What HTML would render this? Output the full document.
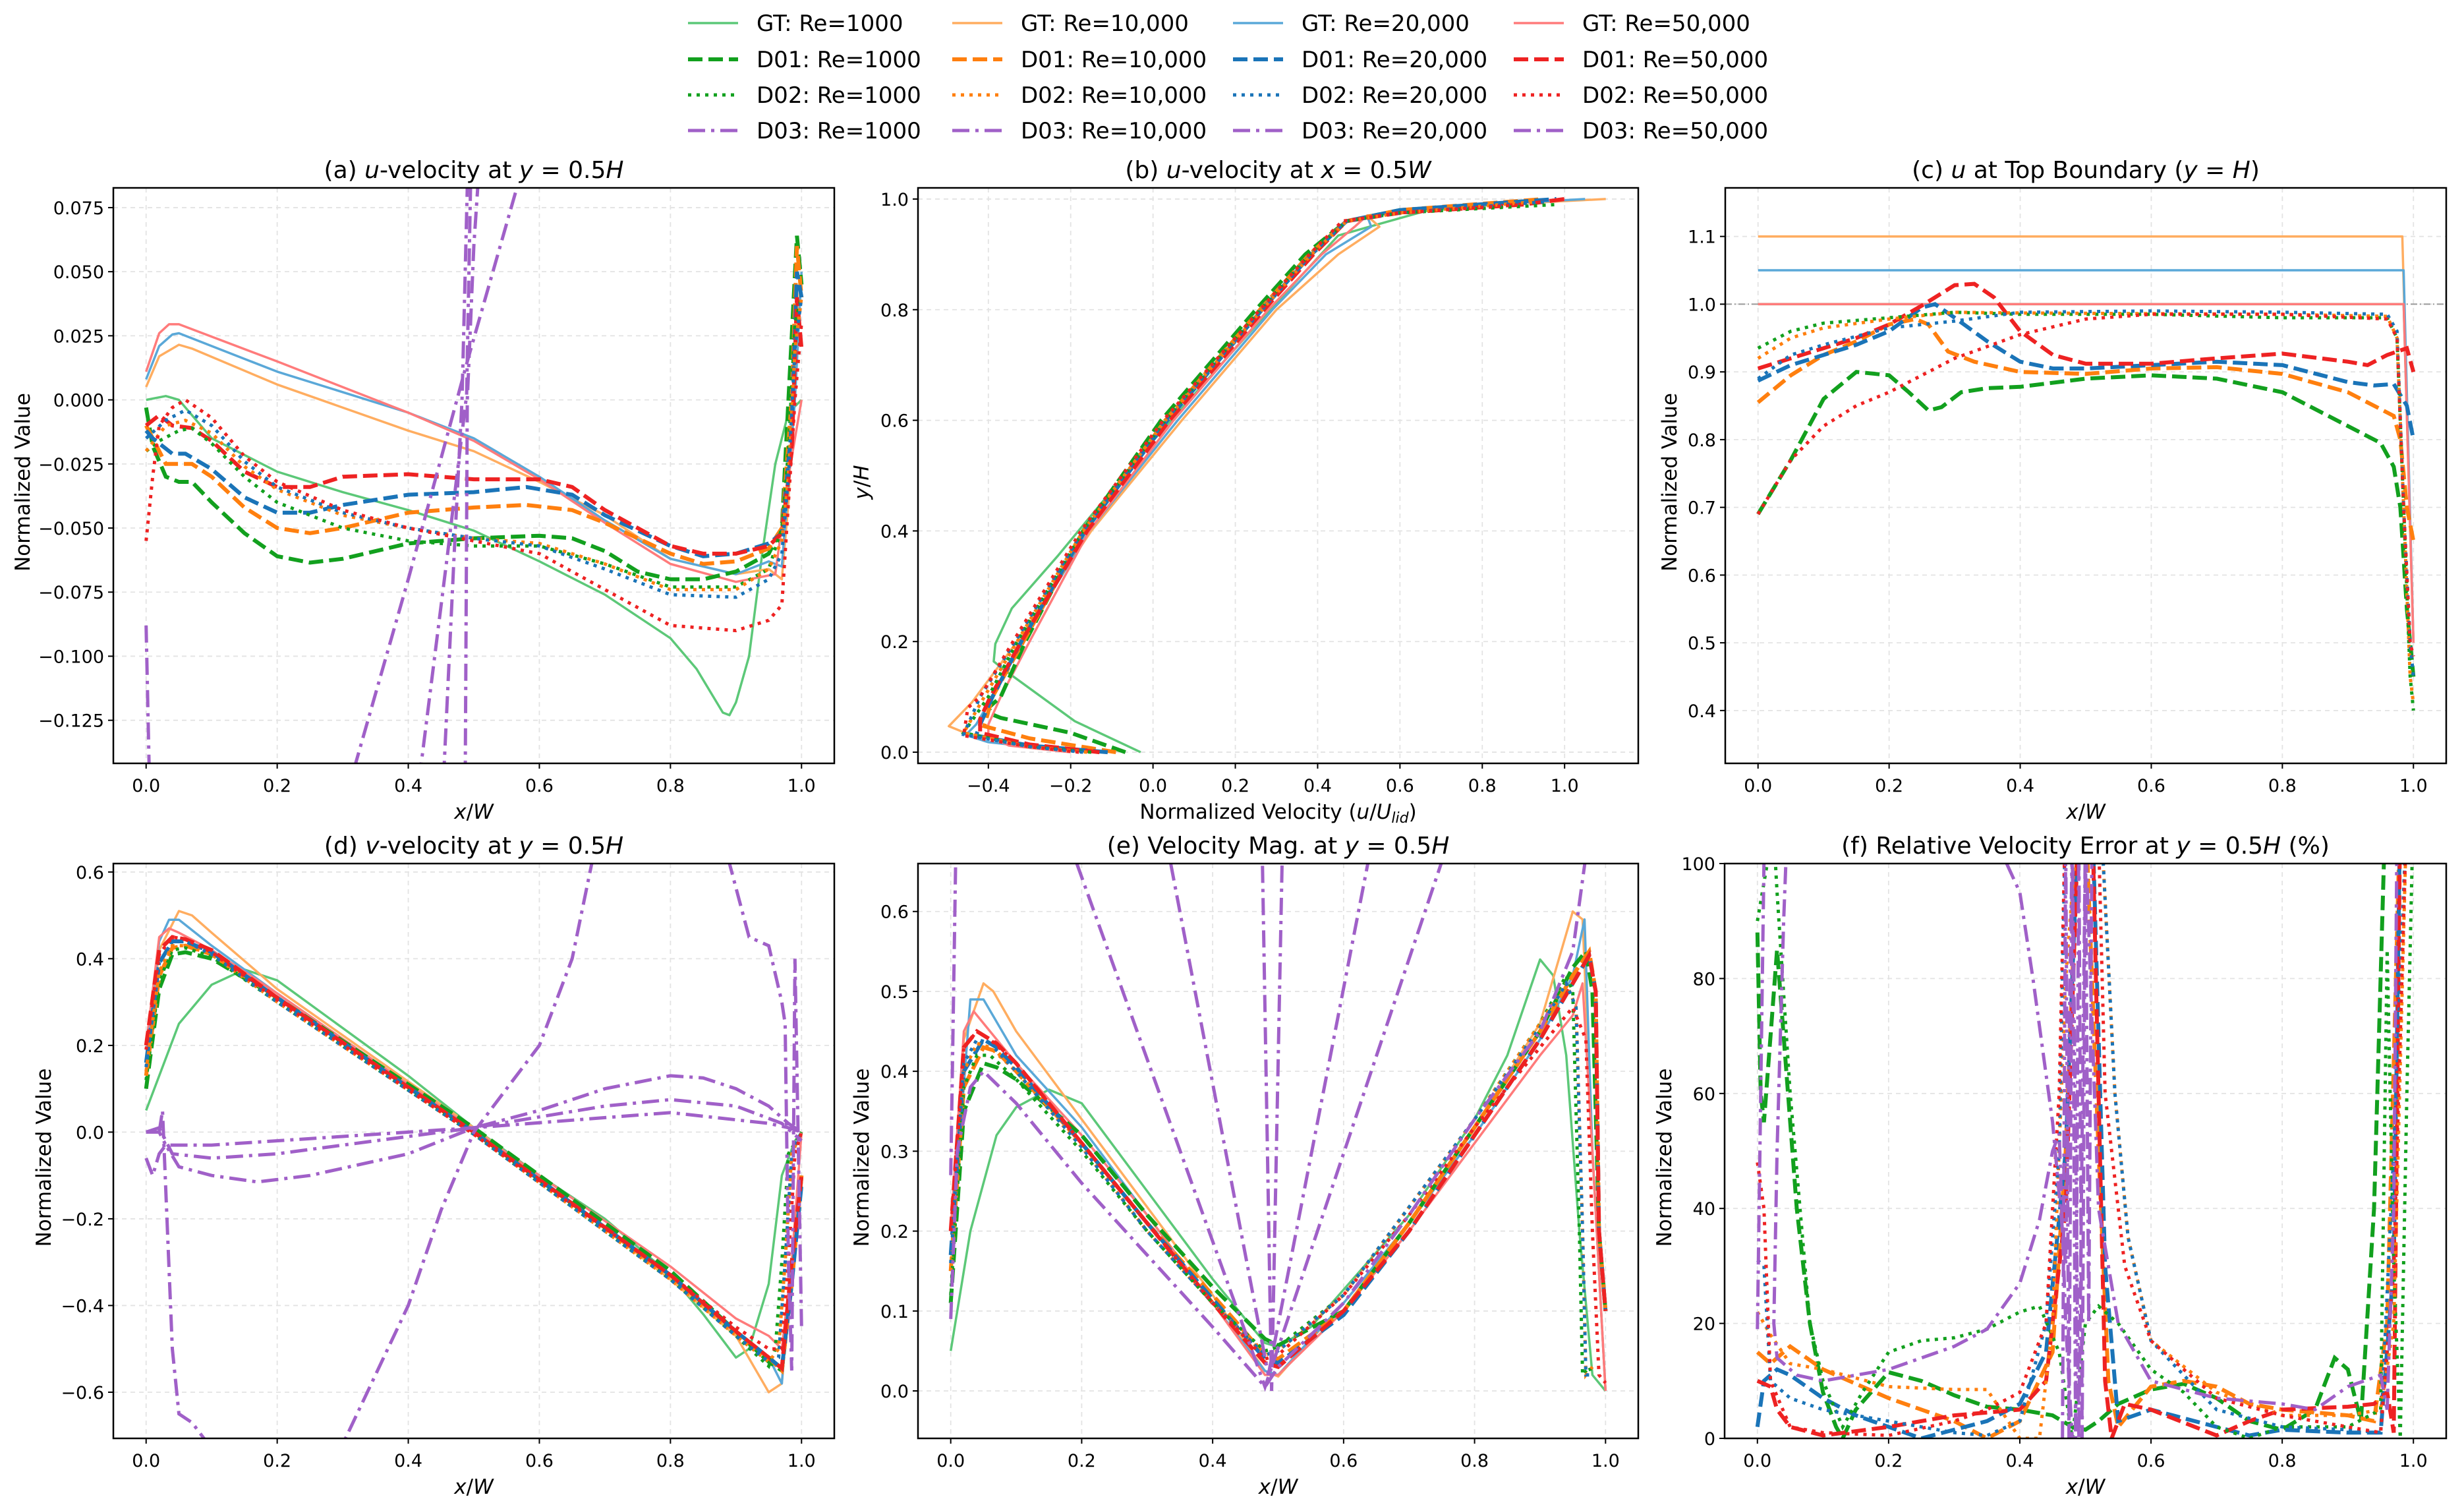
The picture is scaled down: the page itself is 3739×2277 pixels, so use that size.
<!DOCTYPE html>
<html><head><meta charset="utf-8">
<style>
html,body{margin:0;padding:0;background:#fff;}
svg{display:block;font-family:"DejaVu Sans","Liberation Sans",sans-serif;}
</style></head>
<body>
<svg id="fig" xmlns="http://www.w3.org/2000/svg" width="3739" height="2277" viewBox="0 0 3739 2277">
<rect x="0" y="0" width="3739" height="2277" fill="#fff"/>
<g id="legend"></g>
<g id="plots"></g>
</svg>
<script>
// ---------- Panel (a) u-velocity at y=0.5H ----------
const A_GT1000 = [[0,0],[0.03,0.0015],[0.05,0],[0.1,-0.015],[0.2,-0.028],[0.3,-0.036],[0.4,-0.043],[0.5,-0.051],[0.6,-0.063],[0.7,-0.076],[0.8,-0.093],[0.84,-0.105],[0.88,-0.122],[0.89,-0.123],[0.9,-0.118],[0.92,-0.1],[0.94,-0.06],[0.96,-0.025],[0.97,-0.015],[0.98,-0.005],[1.0,0]];
const A_GT10k = [[0,0.005],[0.02,0.017],[0.05,0.0215],[0.07,0.02],[0.2,0.006],[0.4,-0.012],[0.5,-0.02],[0.6,-0.032],[0.7,-0.045],[0.8,-0.062],[0.9,-0.068],[0.95,-0.066],[0.97,-0.07],[0.98,-0.04],[0.99,0.02],[1.0,0.05]];
const A_GT20k = [[0,0.008],[0.02,0.021],[0.04,0.0255],[0.05,0.026],[0.2,0.011],[0.4,-0.005],[0.5,-0.015],[0.6,-0.03],[0.7,-0.047],[0.8,-0.062],[0.9,-0.068],[0.95,-0.063],[0.97,-0.065],[0.99,0],[1.0,0.05]];
const A_GT50k = [[0,0.011],[0.02,0.026],[0.035,0.0295],[0.05,0.0295],[0.2,0.015],[0.4,-0.005],[0.5,-0.016],[0.6,-0.031],[0.7,-0.048],[0.8,-0.064],[0.9,-0.071],[0.96,-0.068],[0.98,-0.03],[1.0,0]];
const A_D01_1000 = [[0,-0.003],[0.01,-0.018],[0.03,-0.03],[0.05,-0.032],[0.07,-0.032],[0.1,-0.04],[0.15,-0.052],[0.2,-0.061],[0.25,-0.0635],[0.3,-0.062],[0.4,-0.056],[0.5,-0.054],[0.6,-0.053],[0.65,-0.054],[0.7,-0.059],[0.75,-0.067],[0.8,-0.07],[0.85,-0.07],[0.9,-0.067],[0.95,-0.06],[0.97,-0.05],[0.98,0],[0.993,0.064],[1.0,0.045]];
const A_D01_10k = [[0,-0.01],[0.01,-0.015],[0.03,-0.025],[0.07,-0.025],[0.1,-0.03],[0.15,-0.042],[0.2,-0.05],[0.25,-0.052],[0.3,-0.05],[0.4,-0.044],[0.5,-0.042],[0.58,-0.041],[0.65,-0.043],[0.7,-0.048],[0.8,-0.06],[0.85,-0.064],[0.9,-0.063],[0.95,-0.058],[0.97,-0.05],[0.985,0],[0.993,0.06],[1.0,0.04]];
const A_D01_20k = [[0,-0.012],[0.01,-0.015],[0.04,-0.021],[0.06,-0.021],[0.1,-0.027],[0.15,-0.038],[0.2,-0.044],[0.25,-0.044],[0.3,-0.041],[0.4,-0.037],[0.5,-0.036],[0.58,-0.034],[0.65,-0.037],[0.7,-0.045],[0.8,-0.057],[0.85,-0.061],[0.9,-0.06],[0.95,-0.056],[0.97,-0.052],[0.985,-0.01],[0.993,0.05],[1.0,0.04]];
const A_D01_50k = [[0,-0.01],[0.02,-0.006],[0.04,-0.01],[0.07,-0.011],[0.1,-0.016],[0.15,-0.028],[0.2,-0.034],[0.25,-0.034],[0.3,-0.03],[0.4,-0.029],[0.5,-0.031],[0.6,-0.031],[0.65,-0.034],[0.7,-0.043],[0.8,-0.057],[0.85,-0.06],[0.9,-0.06],[0.95,-0.057],[0.97,-0.052],[0.985,-0.02],[0.993,0.04],[1.0,0.02]];
const A_D02_1000 = [[0,-0.02],[0.02,-0.016],[0.05,-0.012],[0.07,-0.011],[0.1,-0.017],[0.15,-0.03],[0.2,-0.04],[0.3,-0.05],[0.4,-0.055],[0.5,-0.057],[0.6,-0.057],[0.7,-0.064],[0.8,-0.073],[0.9,-0.073],[0.95,-0.066],[0.97,-0.05],[0.98,-0.02],[0.99,0.03],[1.0,0.04]];
const A_D02_10k = [[0,-0.02],[0.03,-0.01],[0.06,-0.008],[0.1,-0.013],[0.15,-0.026],[0.2,-0.035],[0.3,-0.045],[0.4,-0.05],[0.5,-0.054],[0.6,-0.056],[0.7,-0.064],[0.8,-0.074],[0.9,-0.074],[0.95,-0.066],[0.97,-0.055],[0.98,-0.03],[0.99,0.02],[1.0,0.04]];
const A_D02_20k = [[0,-0.015],[0.03,-0.008],[0.06,-0.004],[0.1,-0.01],[0.15,-0.024],[0.2,-0.034],[0.3,-0.044],[0.4,-0.05],[0.5,-0.054],[0.6,-0.057],[0.7,-0.066],[0.8,-0.076],[0.9,-0.077],[0.95,-0.07],[0.97,-0.06],[0.98,-0.03],[0.99,0.02],[1.0,0.04]];
const A_D02_50k = [[0,-0.055],[0.01,-0.03],[0.02,-0.01],[0.04,-0.003],[0.06,0],[0.1,-0.007],[0.15,-0.022],[0.2,-0.032],[0.3,-0.043],[0.4,-0.05],[0.5,-0.055],[0.6,-0.06],[0.7,-0.074],[0.8,-0.088],[0.9,-0.09],[0.95,-0.086],[0.97,-0.08],[0.98,-0.04],[0.99,0],[1.0,0.03]];
const A_D03_1000 = [[0,-0.088],[0.006,-0.16],[0.3,-0.16],[0.32,-0.1415],[0.4,-0.07],[0.49,0.015],[0.566,0.083],[0.6,0.11]];
const A_D03_10k = [[0.4,-0.16],[0.42,-0.1415],[0.46,-0.06],[0.489,0.002],[0.495,0.083],[0.5,0.1]];
const A_D03_20k = [[0.45,-0.16],[0.455,-0.1415],[0.47,-0.06],[0.482,0.0],[0.49,0.083],[0.492,0.1]];
const A_D03_50k = [[0.487,-0.16],[0.487,-0.1415],[0.49,0.0],[0.5,0.06],[0.506,0.083],[0.51,0.1]];

// ---------- Panel (b) u-velocity at x=0.5W (x = velocity, y = y/H) ----------
const B_GT1000 = [[-0.03,0],[-0.19,0.056],[-0.36,0.148],[-0.387,0.164],[-0.383,0.196],[-0.343,0.26],[-0.23,0.356],[0,0.563],[0.26,0.78],[0.45,0.934],[0.54,0.953],[0.66,0.978],[0.9,0.995],[0.93,1.0]];
const B_GT10k = [[-0.12,0],[-0.3,0.012],[-0.45,0.033],[-0.496,0.047],[-0.44,0.09],[-0.33,0.2],[-0.15,0.4],[0.07,0.6],[0.3,0.8],[0.45,0.9],[0.55,0.95],[0.52,0.97],[0.7,0.985],[1.1,1.0]];
const B_GT20k = [[-0.15,0],[-0.3,0.01],[-0.4,0.018],[-0.455,0.031],[-0.43,0.05],[-0.39,0.1],[-0.32,0.2],[-0.155,0.4],[0.06,0.6],[0.29,0.8],[0.42,0.9],[0.53,0.95],[0.52,0.97],[0.7,0.985],[1.05,1.0]];
const B_GT50k = [[-0.2,0],[-0.35,0.012],[-0.4,0.03],[-0.4,0.05],[-0.37,0.1],[-0.3,0.2],[-0.155,0.4],[0.05,0.6],[0.28,0.8],[0.41,0.9],[0.49,0.95],[0.52,0.97],[0.7,0.985],[1.0,1.0]];
const B_D01_1000 = [[-0.067,0],[-0.2,0.035],[-0.37,0.062],[-0.39,0.068],[-0.4,0.08],[-0.37,0.1],[-0.31,0.2],[-0.17,0.4],[0.02,0.6],[0.25,0.8],[0.37,0.9],[0.47,0.96],[0.6,0.98],[0.9,0.995]];
const B_D01_10k = [[-0.09,0],[-0.3,0.025],[-0.41,0.047],[-0.39,0.1],[-0.315,0.2],[-0.165,0.4],[0.03,0.6],[0.26,0.8],[0.38,0.9],[0.47,0.96],[0.6,0.98],[0.95,1.0]];
const B_D01_20k = [[-0.11,0],[-0.3,0.012],[-0.43,0.03],[-0.42,0.05],[-0.39,0.1],[-0.32,0.2],[-0.165,0.4],[0.035,0.6],[0.265,0.8],[0.385,0.9],[0.47,0.96],[0.6,0.98],[0.98,1.0]];
const B_D01_50k = [[-0.13,0],[-0.3,0.014],[-0.42,0.035],[-0.42,0.06],[-0.395,0.1],[-0.32,0.2],[-0.16,0.4],[0.04,0.6],[0.27,0.8],[0.39,0.9],[0.47,0.96],[0.6,0.975],[0.9,0.99],[1.0,1.0]];
const B_D02_1000 = [[-0.15,0],[-0.3,0.01],[-0.46,0.035],[-0.4,0.1],[-0.33,0.2],[-0.17,0.4],[0.03,0.6],[0.26,0.8],[0.38,0.9],[0.47,0.96],[0.6,0.975],[0.98,0.99]];
const B_D02_10k = [[-0.16,0],[-0.3,0.01],[-0.46,0.035],[-0.41,0.1],[-0.33,0.2],[-0.17,0.4],[0.03,0.6],[0.265,0.8],[0.385,0.9],[0.47,0.96],[0.6,0.975],[0.93,0.995]];
const B_D02_20k = [[-0.17,0],[-0.3,0.01],[-0.46,0.032],[-0.42,0.1],[-0.335,0.2],[-0.17,0.4],[0.03,0.6],[0.265,0.8],[0.385,0.9],[0.47,0.96],[0.6,0.975],[0.95,0.995]];
const B_D02_50k = [[-0.18,0],[-0.3,0.01],[-0.46,0.03],[-0.45,0.08],[-0.42,0.1],[-0.34,0.2],[-0.175,0.4],[0.025,0.6],[0.26,0.8],[0.38,0.9],[0.46,0.96],[0.6,0.975],[0.9,0.99]];

// ---------- Panel (c) u at top boundary ----------
const C_GT1000 = [[0,1.0],[0.985,1.0],[1.0,0.5]];
const C_GT10k = [[0,1.1],[0.983,1.1],[1.0,0.5]];
const C_GT20k = [[0,1.05],[0.985,1.05],[1.0,0.5]];
const C_GT50k = [[0,1.0],[0.985,1.0],[1.0,0.5]];
const C_D01_1000 = [[0,0.69],[0.05,0.77],[0.1,0.86],[0.15,0.9],[0.2,0.895],[0.23,0.87],[0.26,0.843],[0.28,0.848],[0.31,0.87],[0.35,0.876],[0.4,0.878],[0.5,0.89],[0.6,0.895],[0.7,0.89],[0.8,0.87],[0.9,0.82],[0.95,0.795],[0.97,0.76],[0.98,0.7],[0.99,0.55],[1.0,0.45]];
const C_D01_10k = [[0,0.855],[0.05,0.895],[0.1,0.925],[0.15,0.945],[0.2,0.97],[0.24,0.978],[0.26,0.97],[0.29,0.93],[0.33,0.915],[0.4,0.9],[0.5,0.897],[0.6,0.905],[0.7,0.907],[0.8,0.897],[0.9,0.87],[0.95,0.845],[0.97,0.835],[0.98,0.8],[0.99,0.7],[1.0,0.65]];
const C_D01_20k = [[0,0.887],[0.05,0.91],[0.1,0.925],[0.15,0.94],[0.2,0.96],[0.25,0.995],[0.27,1.0],[0.3,0.98],[0.35,0.945],[0.4,0.915],[0.45,0.905],[0.5,0.905],[0.6,0.91],[0.7,0.915],[0.8,0.91],[0.9,0.885],[0.94,0.88],[0.97,0.882],[0.99,0.85],[1.0,0.8]];
const C_D01_50k = [[0,0.905],[0.05,0.92],[0.1,0.935],[0.15,0.95],[0.2,0.97],[0.25,0.998],[0.3,1.028],[0.33,1.03],[0.36,1.01],[0.4,0.96],[0.45,0.925],[0.5,0.912],[0.6,0.912],[0.7,0.92],[0.8,0.927],[0.9,0.915],[0.93,0.91],[0.96,0.925],[0.99,0.935],[1.0,0.9]];
const C_D02_1000 = [[0,0.935],[0.05,0.96],[0.1,0.972],[0.2,0.98],[0.3,0.988],[0.4,0.985],[0.6,0.985],[0.8,0.98],[0.96,0.98],[0.975,0.95],[0.985,0.7],[0.995,0.45],[1.0,0.4]];
const C_D02_10k = [[0,0.92],[0.05,0.95],[0.1,0.965],[0.2,0.978],[0.3,0.988],[0.4,0.987],[0.6,0.986],[0.8,0.985],[0.96,0.982],[0.975,0.95],[0.985,0.7],[0.995,0.45],[1.0,0.41]];
const C_D02_20k = [[0,0.89],[0.05,0.925],[0.1,0.94],[0.2,0.965],[0.3,0.975],[0.4,0.988],[0.6,0.99],[0.8,0.988],[0.96,0.985],[0.975,0.96],[0.985,0.7],[0.995,0.5],[1.0,0.45]];
const C_D02_50k = [[0,0.69],[0.05,0.77],[0.1,0.82],[0.15,0.85],[0.2,0.87],[0.3,0.92],[0.4,0.955],[0.5,0.978],[0.6,0.985],[0.8,0.985],[0.96,0.978],[0.975,0.95],[0.985,0.7],[0.995,0.5],[1.0,0.48]];
const C_REF = [[-0.05,1.0],[1.05,1.0]];

// ---------- Panel (d) v-velocity at y=0.5H ----------
const D_GT1000 = [[0,0.05],[0.05,0.25],[0.1,0.34],[0.15,0.375],[0.2,0.35],[0.3,0.24],[0.4,0.13],[0.5,0.01],[0.6,-0.1],[0.7,-0.2],[0.8,-0.33],[0.85,-0.42],[0.9,-0.52],[0.92,-0.5],[0.95,-0.35],[0.97,-0.1],[0.99,-0.02],[1.0,0]];
const D_GT10k = [[0,0.15],[0.02,0.42],[0.05,0.51],[0.07,0.5],[0.1,0.46],[0.2,0.33],[0.5,0.01],[0.8,-0.34],[0.9,-0.47],[0.95,-0.6],[0.97,-0.58],[0.985,-0.3],[1.0,-0.1]];
const D_GT20k = [[0,0.17],[0.02,0.44],[0.035,0.49],[0.05,0.49],[0.1,0.43],[0.2,0.32],[0.5,0.005],[0.8,-0.33],[0.9,-0.46],[0.95,-0.52],[0.97,-0.58],[0.985,-0.3],[1.0,-0.1]];
const D_GT50k = [[0,0.2],[0.02,0.45],[0.035,0.47],[0.05,0.46],[0.1,0.42],[0.2,0.32],[0.5,0.005],[0.8,-0.31],[0.9,-0.43],[0.95,-0.47],[0.97,-0.5],[0.985,-0.3],[1.0,0]];
const D_D01_1000 = [[0,0.1],[0.02,0.33],[0.04,0.41],[0.06,0.415],[0.1,0.4],[0.2,0.31],[0.5,0.01],[0.8,-0.32],[0.9,-0.46],[0.95,-0.53],[0.97,-0.55],[0.985,-0.35],[1.0,-0.1]];
const D_D01_10k = [[0,0.13],[0.02,0.36],[0.04,0.425],[0.06,0.43],[0.1,0.41],[0.2,0.31],[0.5,0],[0.8,-0.33],[0.9,-0.46],[0.95,-0.52],[0.97,-0.55],[0.985,-0.35],[1.0,-0.1]];
const D_D01_20k = [[0,0.16],[0.02,0.39],[0.04,0.44],[0.06,0.44],[0.1,0.415],[0.2,0.31],[0.5,0],[0.8,-0.33],[0.9,-0.46],[0.95,-0.52],[0.97,-0.545],[0.985,-0.35],[1.0,-0.12]];
const D_D01_50k = [[0,0.2],[0.02,0.42],[0.04,0.45],[0.06,0.445],[0.1,0.42],[0.2,0.31],[0.5,0],[0.8,-0.33],[0.9,-0.46],[0.95,-0.52],[0.97,-0.545],[0.985,-0.3],[1.0,-0.1]];
const D_D02_1000 = [[0,0.12],[0.02,0.35],[0.04,0.42],[0.06,0.425],[0.1,0.405],[0.2,0.3],[0.5,-0.005],[0.8,-0.34],[0.9,-0.47],[0.95,-0.54],[0.96,-0.5],[0.97,-0.3],[0.98,-0.05],[1.0,0]];
const D_D02_10k = [[0,0.14],[0.02,0.37],[0.04,0.43],[0.06,0.43],[0.1,0.41],[0.2,0.3],[0.5,-0.005],[0.8,-0.34],[0.9,-0.47],[0.95,-0.53],[0.965,-0.5],[0.975,-0.3],[0.985,-0.05],[1.0,0]];
const D_D02_20k = [[0,0.15],[0.02,0.39],[0.04,0.44],[0.06,0.44],[0.1,0.41],[0.2,0.3],[0.5,-0.005],[0.8,-0.34],[0.9,-0.47],[0.95,-0.53],[0.965,-0.52],[0.975,-0.3],[0.985,-0.05],[1.0,0]];
const D_D02_50k = [[0,0.19],[0.02,0.41],[0.04,0.45],[0.06,0.445],[0.1,0.415],[0.2,0.305],[0.5,-0.005],[0.8,-0.33],[0.9,-0.45],[0.95,-0.5],[0.97,-0.5],[0.98,-0.3],[0.99,-0.05],[1.0,0]];
const D_D03_1000 = [[0,0],[0.02,0],[0.03,-0.03],[0.1,-0.03],[0.3,-0.01],[0.5,0.01],[0.8,0.045],[0.95,0.02],[0.98,0.01],[1.0,0]];
const D_D03_10k = [[0,0],[0.02,0.01],[0.04,-0.05],[0.1,-0.06],[0.2,-0.05],[0.4,-0.01],[0.5,0.01],[0.7,0.06],[0.8,0.075],[0.9,0.06],[0.97,0.02],[0.985,0],[1.0,-0.02]];
const D_D03_20k = [[0,-0.06],[0.01,-0.1],[0.02,-0.05],[0.03,-0.03],[0.05,-0.08],[0.1,-0.1],[0.17,-0.115],[0.25,-0.1],[0.4,-0.05],[0.5,0.01],[0.6,0.05],[0.7,0.1],[0.8,0.13],[0.85,0.125],[0.9,0.1],[0.95,0.06],[0.98,0.02],[1.0,0]];
const D_D03_50k = [[0.02,0],[0.025,0.05],[0.04,-0.5],[0.05,-0.65],[0.07,-0.67],[0.09,-0.71],[0.12,-0.9],[0.28,-0.9],[0.3,-0.72],[0.4,-0.4],[0.45,-0.18],[0.5,0],[0.55,0.1],[0.6,0.2],[0.65,0.4],[0.68,0.62],[0.7,0.85],[0.88,0.85],[0.89,0.62],[0.92,0.45],[0.95,0.43],[0.97,0.3],[0.975,0.25],[0.98,-0.3],[0.985,-0.55],[0.99,0.4],[1.0,-0.45]];

// ---------- Panel (e) velocity magnitude at y=0.5H ----------
const E_GT1000 = [[0,0.05],[0.03,0.2],[0.07,0.32],[0.1,0.355],[0.15,0.377],[0.2,0.36],[0.3,0.25],[0.4,0.14],[0.48,0.06],[0.5,0.055],[0.55,0.08],[0.7,0.22],[0.8,0.34],[0.85,0.42],[0.9,0.54],[0.92,0.52],[0.94,0.42],[0.96,0.2],[0.98,0.02],[1.0,0]];
const E_GT10k = [[0,0.15],[0.02,0.44],[0.05,0.51],[0.065,0.5],[0.1,0.45],[0.2,0.34],[0.3,0.23],[0.4,0.12],[0.48,0.025],[0.5,0.018],[0.6,0.11],[0.7,0.21],[0.8,0.33],[0.9,0.46],[0.95,0.6],[0.965,0.59],[0.98,0.3],[1.0,0]];
const E_GT20k = [[0,0.17],[0.03,0.49],[0.05,0.49],[0.1,0.42],[0.2,0.33],[0.3,0.22],[0.4,0.11],[0.48,0.025],[0.5,0.02],[0.6,0.11],[0.7,0.21],[0.8,0.32],[0.9,0.44],[0.95,0.52],[0.968,0.59],[0.98,0.3],[1.0,0]];
const E_GT50k = [[0,0.2],[0.02,0.45],[0.035,0.475],[0.05,0.46],[0.1,0.41],[0.2,0.32],[0.3,0.22],[0.4,0.11],[0.48,0.02],[0.5,0.02],[0.6,0.1],[0.7,0.2],[0.8,0.31],[0.9,0.42],[0.95,0.47],[0.965,0.51],[0.98,0.3],[1.0,0]];
const E_D01_1000 = [[0,0.11],[0.02,0.35],[0.05,0.41],[0.07,0.405],[0.1,0.39],[0.2,0.32],[0.3,0.22],[0.4,0.13],[0.48,0.065],[0.5,0.057],[0.6,0.1],[0.7,0.21],[0.8,0.33],[0.9,0.45],[0.95,0.53],[0.97,0.55],[0.98,0.5],[0.99,0.2],[1.0,0.1]];
const E_D01_10k = [[0,0.15],[0.02,0.38],[0.05,0.43],[0.07,0.425],[0.1,0.4],[0.2,0.31],[0.3,0.21],[0.4,0.12],[0.48,0.045],[0.5,0.04],[0.6,0.1],[0.7,0.21],[0.8,0.33],[0.9,0.45],[0.95,0.52],[0.975,0.55],[0.985,0.5],[0.99,0.2],[1.0,0.1]];
const E_D01_20k = [[0,0.17],[0.02,0.4],[0.05,0.44],[0.07,0.43],[0.1,0.405],[0.2,0.31],[0.3,0.21],[0.4,0.115],[0.48,0.04],[0.5,0.035],[0.6,0.095],[0.7,0.2],[0.8,0.32],[0.9,0.44],[0.95,0.51],[0.975,0.545],[0.985,0.5],[0.99,0.2],[1.0,0.1]];
const E_D01_50k = [[0,0.2],[0.02,0.43],[0.04,0.45],[0.07,0.435],[0.1,0.41],[0.2,0.31],[0.3,0.21],[0.4,0.11],[0.48,0.035],[0.5,0.03],[0.6,0.1],[0.7,0.2],[0.8,0.32],[0.9,0.44],[0.95,0.51],[0.975,0.545],[0.985,0.5],[0.99,0.2],[1.0,0.1]];
const E_D02_1000 = [[0,0.12],[0.02,0.38],[0.04,0.42],[0.06,0.42],[0.1,0.39],[0.2,0.3],[0.3,0.2],[0.4,0.11],[0.48,0.05],[0.5,0.055],[0.6,0.12],[0.7,0.23],[0.8,0.34],[0.9,0.46],[0.94,0.52],[0.95,0.5],[0.96,0.2],[0.965,0.02],[0.975,0.03],[0.98,0.02]];
const E_D02_10k = [[0,0.15],[0.02,0.4],[0.04,0.435],[0.06,0.43],[0.1,0.4],[0.2,0.305],[0.3,0.2],[0.4,0.11],[0.48,0.045],[0.5,0.05],[0.6,0.12],[0.7,0.23],[0.8,0.34],[0.9,0.46],[0.94,0.51],[0.955,0.48],[0.965,0.2],[0.97,0.02],[0.98,0.03]];
const E_D02_20k = [[0,0.16],[0.02,0.41],[0.04,0.44],[0.06,0.435],[0.1,0.4],[0.2,0.305],[0.3,0.2],[0.4,0.11],[0.48,0.045],[0.5,0.05],[0.6,0.12],[0.7,0.23],[0.8,0.34],[0.9,0.455],[0.94,0.51],[0.955,0.48],[0.965,0.2],[0.97,0.02],[0.98,0.02]];
const E_D02_50k = [[0,0.2],[0.02,0.43],[0.04,0.45],[0.06,0.44],[0.1,0.41],[0.2,0.31],[0.3,0.21],[0.4,0.11],[0.48,0.04],[0.5,0.045],[0.6,0.12],[0.7,0.22],[0.8,0.33],[0.9,0.43],[0.95,0.48],[0.97,0.44],[0.98,0.2],[0.99,0.02],[1.0,0.01]];
const E_D03_1000 = [[0,0.09],[0.01,0.3],[0.03,0.38],[0.05,0.4],[0.1,0.36],[0.2,0.26],[0.3,0.17],[0.4,0.08],[0.48,0.005],[0.5,0.03],[0.6,0.11],[0.7,0.22],[0.8,0.34],[0.9,0.45],[0.95,0.55],[0.975,0.7]];
const E_D03_10k = [[0,0.27],[0.0075,0.66],[0.02,1.0],[0.5,1.5],[0.97,1.0],[0.985,0.66]];
const E_D03_20k = [[0.19,0.7],[0.1925,0.66],[0.48,0.005],[0.749,0.66],[0.76,0.7]];
const E_D03_50k = [[0.33,0.7],[0.336,0.66],[0.485,0.02],[0.637,0.66],[0.65,0.7],[0.7,0.7],[0.476,0.66],[0.49,0.0],[0.506,0.66],[0.51,0.7]];

// ---------- Panel (f) relative velocity error (%) ----------
const F_D01_1000 = [[0,88],[0.005,60],[0.01,55],[0.02,70],[0.03,85],[0.04,70],[0.06,40],[0.08,20],[0.1,8],[0.12,2],[0.13,0],[0.15,5],[0.2,11.5],[0.25,10],[0.3,7.5],[0.35,5.5],[0.4,5],[0.45,4],[0.48,2],[0.5,1.5],[0.52,3],[0.55,6],[0.6,8.5],[0.65,9.5],[0.7,7],[0.75,3],[0.8,1.5],[0.85,5],[0.88,14],[0.9,12],[0.92,3],[0.94,40],[0.955,100],[0.96,130]];
const F_D01_10k = [[0,15],[0.02,13],[0.05,16],[0.1,12],[0.2,7],[0.3,3],[0.35,0],[0.4,3],[0.45,15],[0.47,50],[0.49,110],[0.5,110],[0.52,50],[0.535,10],[0.55,2],[0.6,9],[0.65,10],[0.7,9],[0.75,6],[0.8,5],[0.9,4],[0.94,3],[0.96,20],[0.98,110],[1.0,110]];
const F_D01_20k = [[0,2],[0.01,10],[0.03,12],[0.05,11],[0.1,7],[0.15,4],[0.2,2],[0.25,0],[0.3,1.5],[0.35,3],[0.4,6],[0.44,15],[0.47,50],[0.49,110],[0.51,110],[0.53,30],[0.55,3],[0.6,5],[0.7,2],[0.75,0.5],[0.8,1.5],[0.9,1],[0.95,1],[0.97,30],[0.98,110]];
const F_D01_50k = [[0,10],[0.02,9],[0.03,5],[0.05,2],[0.1,0.5],[0.2,2],[0.3,4],[0.4,5],[0.44,10],[0.47,40],[0.49,110],[0.51,110],[0.53,10],[0.54,0],[0.56,6],[0.6,5],[0.7,0.5],[0.75,3],[0.8,5],[0.9,5.5],[0.94,6],[0.96,8],[0.97,1],[0.98,110]];
const F_D02_1000 = [[0,90],[0.015,100],[0.025,105],[0.03,95],[0.05,60],[0.08,20],[0.1,10],[0.13,2],[0.16,8],[0.2,15],[0.25,17],[0.3,17.5],[0.35,19],[0.4,22],[0.43,23],[0.46,15],[0.48,0],[0.5,20],[0.52,23],[0.55,20],[0.6,12],[0.65,8],[0.7,2],[0.75,0],[0.8,2],[0.9,2],[0.95,5],[0.96,85],[0.97,30],[0.98,0],[0.99,60],[1.0,110]];
const F_D02_10k = [[0,22],[0.02,18],[0.05,13],[0.1,12],[0.2,9],[0.3,8.5],[0.35,8.5],[0.4,0],[0.43,0],[0.45,20],[0.47,80],[0.49,110],[0.525,105],[0.545,60],[0.565,35],[0.6,17],[0.7,8],[0.8,4],[0.9,4],[0.95,5],[0.97,20],[0.99,110]];
const F_D02_20k = [[0,31],[0.01,30],[0.02,10],[0.05,7],[0.1,5],[0.2,3],[0.3,1],[0.35,0.5],[0.4,3],[0.44,20],[0.46,50],[0.47,110],[0.525,105],[0.545,60],[0.565,35],[0.6,17],[0.7,5],[0.8,2],[0.9,1.5],[0.95,1],[0.97,50],[0.99,110]];
const F_D02_50k = [[0,48],[0.01,40],[0.02,10],[0.05,2],[0.1,1],[0.2,0.5],[0.3,3],[0.35,5],[0.4,8],[0.44,20],[0.46,60],[0.47,110],[0.52,105],[0.53,60],[0.56,30],[0.6,17],[0.7,7],[0.8,4],[0.9,2],[0.95,1],[0.97,30],[0.99,110]];
const F_D03_1000 = [[0,19],[0.005,60],[0.01,100],[0.015,130]];
const F_D03_10k = [[0.045,105],[0.04,90],[0.03,50],[0.025,20],[0.03,14],[0.06,11],[0.1,10],[0.2,12],[0.3,16],[0.35,19],[0.4,27],[0.43,38],[0.45,50],[0.46,53],[0.47,20],[0.48,0]];
const F_D03_20k = [[0.38,100],[0.4,95],[0.42,80],[0.45,55],[0.47,30],[0.48,105],[0.49,0],[0.5,105],[0.52,40],[0.55,20],[0.6,10],[0.7,7],[0.8,6],[0.85,5],[0.9,9],[0.95,11],[0.96,5],[0.97,40],[0.975,105]];
const F_D03_50k = [[0.465,0],[0.47,105],[0.475,0],[0.48,105],[0.485,0],[0.49,105],[0.495,0],[0.5,105],[0.505,20],[0.51,105]];

// ---------- Tick labels ----------
const TICKS_X01 = [0,0.2,0.4,0.6,0.8,1.0];
const TICKS_XB = [-0.4,-0.2,0,0.2,0.4,0.6,0.8,1.0];
const TICKS_YA = [-0.125,-0.1,-0.075,-0.05,-0.025,0,0.025,0.05,0.075];
const TICKS_YB = [0,0.2,0.4,0.6,0.8,1.0];
const TICKS_YC = [0.4,0.5,0.6,0.7,0.8,0.9,1.0,1.1];
const TICKS_YD = [-0.6,-0.4,-0.2,0,0.2,0.4,0.6];
const TICKS_YE = [0,0.1,0.2,0.3,0.4,0.5,0.6];
const TICKS_YF = [0,20,40,60,80,100];

// ---------- rendering ----------
const NS = 'http://www.w3.org/2000/svg';
const COL = {gt:['#5cc878','#ffad60','#5aa8d8','#ff7b7b'], d:['#12a01e','#ff7f0e','#1a74b8','#ee2222'], p:'#a060c8'};
const RE = ['Re=1000','Re=10,000','Re=20,000','Re=50,000'];
const RK = ['1000','10k','20k','50k'];
function mk(tag, attrs, parent){const e=document.createElementNS(NS,tag);for(const k in attrs)e.setAttribute(k,attrs[k]);if(parent)parent.appendChild(e);return e;}
function styleOf(kind, idx){
  if(kind==='gt') return {stroke:COL.gt[idx],'stroke-width':3.5,fill:'none','stroke-linejoin':'round'};
  if(kind==='d01') return {stroke:COL.d[idx],'stroke-width':6,fill:'none','stroke-dasharray':'22,9'};
  if(kind==='d02') return {stroke:COL.d[idx],'stroke-width':5,fill:'none','stroke-dasharray':'5,8'};
  return {stroke:COL.p,'stroke-width':5,fill:'none','stroke-dasharray':'26,9,5,9'};
}
function fmt(v,dec){let s=v.toFixed(dec);if(v<0)s='\u2212'+s.slice(1);return s;}

const root=document.getElementById('plots');
const panels=[
 {id:'a',l:172,r:1266,t:285,b:1158,x0:-0.05,x1:1.05,y0:-0.1418,y1:0.0827,xt:TICKS_X01,xd:1,yt:TICKS_YA,yd:3,
  title:[['(a) ',0],['u',1],['-velocity at ',0],['y',1],[' = 0.5',0],['H',1]],xl:[['x',1],['/',0],['W',1]],yl:'Normalized Value',ylx:35,
  series:{gt:[A_GT1000,A_GT10k,A_GT20k,A_GT50k],d01:[A_D01_1000,A_D01_10k,A_D01_20k,A_D01_50k],d02:[A_D02_1000,A_D02_10k,A_D02_20k,A_D02_50k],d03:[A_D03_1000,A_D03_10k,A_D03_20k,A_D03_50k]}},
 {id:'b',l:1393,r:2486,t:285,b:1158,x0:-0.571,x1:1.179,y0:-0.0202,y1:1.0202,xt:TICKS_XB,xd:1,yt:TICKS_YB,yd:1,
  title:[['(b) ',0],['u',1],['-velocity at ',0],['x',1],[' = 0.5',0],['W',1]],xl:[['Normalized Velocity (',0],['u',1],['/',0],['U',1],['lid',2],[')',0]],yl:null,ylx:1308,
  series:{gt:[B_GT1000,B_GT10k,B_GT20k,B_GT50k],d01:[B_D01_1000,B_D01_10k,B_D01_20k,B_D01_50k],d02:[B_D02_1000,B_D02_10k,B_D02_20k,B_D02_50k],d03:[]}},
 {id:'c',l:2618,r:3712,t:285,b:1158,x0:-0.05,x1:1.05,y0:0.322,y1:1.1717,xt:TICKS_X01,xd:1,yt:TICKS_YC,yd:1,
  title:[['(c) ',0],['u',1],[' at Top Boundary (',0],['y',1],[' = ',0],['H',1],[')',0]],xl:[['x',1],['/',0],['W',1]],yl:'Normalized Value',ylx:2534,ref:C_REF,
  series:{gt:[C_GT1000,C_GT10k,C_GT20k,C_GT50k],d01:[C_D01_1000,C_D01_10k,C_D01_20k,C_D01_50k],d02:[C_D02_1000,C_D02_10k,C_D02_20k,C_D02_50k],d03:[]}},
 {id:'d',l:172,r:1266,t:1310,b:2182,x0:-0.05,x1:1.05,y0:-0.7065,y1:0.6195,xt:TICKS_X01,xd:1,yt:TICKS_YD,yd:1,
  title:[['(d) ',0],['v',1],['-velocity at ',0],['y',1],[' = 0.5',0],['H',1]],xl:[['x',1],['/',0],['W',1]],yl:'Normalized Value',ylx:67,
  series:{gt:[D_GT1000,D_GT10k,D_GT20k,D_GT50k],d01:[D_D01_1000,D_D01_10k,D_D01_20k,D_D01_50k],d02:[D_D02_1000,D_D02_10k,D_D02_20k,D_D02_50k],d03:[D_D03_1000,D_D03_10k,D_D03_20k,D_D03_50k]}},
 {id:'e',l:1393,r:2486,t:1310,b:2182,x0:-0.05,x1:1.05,y0:-0.0594,y1:0.66,xt:TICKS_X01,xd:1,yt:TICKS_YE,yd:1,
  title:[['(e) Velocity Mag. at ',0],['y',1],[' = 0.5',0],['H',1]],xl:[['x',1],['/',0],['W',1]],yl:'Normalized Value',ylx:1308,
  series:{gt:[E_GT1000,E_GT10k,E_GT20k,E_GT50k],d01:[E_D01_1000,E_D01_10k,E_D01_20k,E_D01_50k],d02:[E_D02_1000,E_D02_10k,E_D02_20k,E_D02_50k],d03:[E_D03_1000,E_D03_10k,E_D03_20k,E_D03_50k]}},
 {id:'f',l:2617,r:3712,t:1310,b:2182,x0:-0.05,x1:1.05,y0:0,y1:100,xt:TICKS_X01,xd:1,yt:TICKS_YF,yd:0,
  title:[['(f) Relative Velocity Error at ',0],['y',1],[' = 0.5',0],['H',1],[' (%)',0]],xl:[['x',1],['/',0],['W',1]],yl:'Normalized Value',ylx:2526,
  series:{gt:[],d01:[F_D01_1000,F_D01_10k,F_D01_20k,F_D01_50k],d02:[F_D02_1000,F_D02_10k,F_D02_20k,F_D02_50k],d03:[F_D03_1000,F_D03_10k,F_D03_20k,F_D03_50k]}}
];

function richText(parent, parts, attrs){
  const t=mk('text',attrs,parent);
  parts.forEach(p=>{const s=mk('tspan',{},t);s.textContent=p[0];
    if(p[1]===1)s.setAttribute('font-style','italic');
    if(p[1]===2){s.setAttribute('font-style','italic');s.setAttribute('font-size','22');s.setAttribute('baseline-shift','-6');}
  });
  return t;
}

panels.forEach(P=>{
  const g=mk('g',{},root);
  
  
  const sx=v=>P.l+(v-P.x0)/(P.x1-P.x0)*(P.r-P.l);
  const sy=v=>P.b-(v-P.y0)/(P.y1-P.y0)*(P.b-P.t);
  const defs=mk('defs',{},g);
  const cp=mk('clipPath',{id:'clip-'+P.id},defs);
  mk('rect',{x:P.l,y:P.t,width:P.r-P.l,height:P.b-P.t},cp);
  const grid=mk('g',{stroke:'#e3e3e3','stroke-width':1.8,'stroke-dasharray':'7,6'},g);
  
  
  P.xt.forEach(v=>mk('line',{x1:sx(v),x2:sx(v),y1:P.t,y2:P.b},grid));
  P.yt.forEach(v=>mk('line',{x1:P.l,x2:P.r,y1:sy(v),y2:sy(v)},grid));
  const sg=mk('g',{'clip-path':'url(#clip-'+P.id+')'},g);
  
  
  if(P.ref){const rl=mk('path',{d:'M'+P.ref.map(p=>sx(p[0]).toFixed(1)+','+sy(p[1]).toFixed(1)).join('L'),stroke:'#999','stroke-width':2,fill:'none','stroke-dasharray':'10,4,2,4'},sg);
    
    }
  ['gt','d01','d02','d03'].forEach(kind=>{
    P.series[kind].forEach((arr,i)=>{
      const d='M'+arr.map(p=>sx(p[0]).toFixed(1)+','+sy(p[1]).toFixed(1)).join('L');
      const path=mk('path',Object.assign({d:d},styleOf(kind,i)),sg);
      
      
    });
  });
  const fr=mk('rect',{x:P.l,y:P.t,width:P.r-P.l,height:P.b-P.t,fill:'none',stroke:'#000','stroke-width':2.5},g);
  
  
  const tk=mk('g',{stroke:'#000','stroke-width':2},g);
  const tl=mk('g',{'font-size':27,fill:'#000'},g);
  
  
  P.xt.forEach(v=>{mk('line',{x1:sx(v),x2:sx(v),y1:P.b,y2:P.b+8},tk);
    const t=mk('text',{x:sx(v),y:P.b+43,'text-anchor':'middle'},tl);t.textContent=fmt(v,P.xd);});
  P.yt.forEach(v=>{mk('line',{x1:P.l-8,x2:P.l,y1:sy(v),y2:sy(v)},tk);
    const t=mk('text',{x:P.l-14,y:sy(v)+10,'text-anchor':'end'},tl);t.textContent=fmt(v,P.yd);});
  const tt=richText(g,P.title,{x:(P.l+P.r)/2,y:P.t-15,'text-anchor':'middle','font-size':36});
  
  
  const xl=richText(g,P.xl,{x:(P.l+P.r)/2,y:P.b+84,'text-anchor':'middle','font-size':31});
  
  
  const cy=(P.t+P.b)/2;
  let yl;
  if(P.yl){yl=mk('text',{x:P.ylx,y:cy,'text-anchor':'middle','font-size':31,transform:'rotate(-90 '+(P.ylx+10)+' '+cy+')'},g);yl.textContent=P.yl;}
  else{yl=richText(g,[['y',1],['/',0],['H',1]],{x:P.ylx,y:cy,'text-anchor':'middle','font-size':31,transform:'rotate(-90 '+(P.ylx+10)+' '+cy+')'});}
  
  
});

// legend
const LEG=document.getElementById('legend');
const colX=[1044,1445,1871,2297];
const rowY=[35,90,144,198];
const kinds=['gt','d01','d02','d03'];
const pre=['GT: ','D01: ','D02: ','D03: '];
for(let c=0;c<4;c++){for(let r=0;r<4;r++){
  const e=mk('g',{},LEG);
  
  
  mk('line',Object.assign({x1:colX[c],x2:colX[c]+76,y1:rowY[r],y2:rowY[r]},styleOf(kinds[r],c)),e);
  const t=mk('text',{x:colX[c]+104,y:rowY[r]+12,'font-size':34},e);
  t.textContent=pre[r]+RE[c];
}}
</script>
</body></html>
